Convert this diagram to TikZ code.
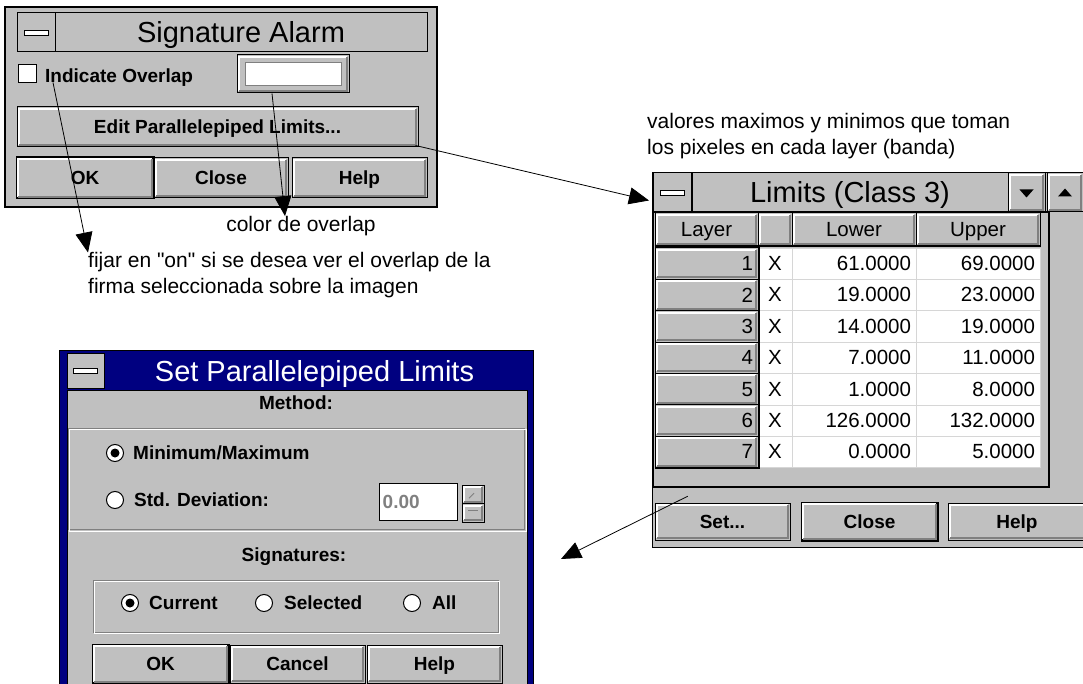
\documentclass[tikz,border=0pt]{standalone}
\usepackage{fontspec}
\setmainfont{Liberation Sans}[Ligatures=TeXOff]
\usetikzlibrary{positioning}
\usetikzlibrary{calc}
\usetikzlibrary{arrows.meta}
\definecolor{wingray}{RGB}{192,192,192}
\definecolor{winshade}{RGB}{128,128,128}
\definecolor{winnavy}{RGB}{0,0,128}
\definecolor{gridgray}{RGB}{214,214,214}
\newcommand{\dlgfont}{\fontsize{19}{22}\selectfont\bfseries}
\newcommand{\ttlfont}{\fontsize{29}{32}\selectfont}
\newcommand{\cellfont}{\fontsize{20.5}{24}\selectfont}
\newcommand{\notefont}{\fontsize{21}{26}\selectfont}
\newcommand{\raised}[1]{%
  \draw[white,line width=2pt] ($(#1.south west)+(2.5,-2.5)$) -- ($(#1.north west)+(2.5,2.5)$) -- ($(#1.north east)+(-2.5,2.5)$);
  \draw[winshade,line width=2pt] ($(#1.south west)+(2.5,-2.5)$) -- ($(#1.south east)+(-2.5,-2.5)$) -- ($(#1.north east)+(-2.5,2.5)$);}
\tikzset{
    winbox/.style = {draw=black,fill=wingray,line width=1pt,inner sep=0pt},
    button/.style = {winbox,minimum width=135pt,minimum height=40pt,font=\dlgfont,text height=13.6pt,text depth=0pt},
    defbutton/.style = {button,line width=3pt},
    caption/.style = {winbox,minimum height=39pt,font=\ttlfont,text height=21pt,text depth=0pt},
    menubox/.style = {winbox,minimum width=38pt,minimum height=39pt},
    menubar/.style = {draw=black,fill=white,line width=0.8pt,minimum width=24pt,minimum height=5pt,inner sep=0pt},
    dlgtext/.style = {font=\dlgfont,inner sep=0pt,text height=13.6pt,text depth=0pt},
    checkbox/.style = {draw=black,fill=white,line width=1pt,minimum size=18pt,inner sep=0pt},
    radio/.style = {circle,draw=black,fill=white,line width=1pt,minimum size=17pt,inner sep=0pt},
    radioon/.style = {radio,path picture={\fill[black] (path picture bounding box.center) circle (4.5pt);}},
    colhead/.style = {winbox,minimum height=33pt,font=\cellfont,text height=14.7pt,text depth=0pt},
    rowhead/.style = {winbox,minimum height=31.4pt,text width=93pt,align=right,inner sep=5pt,font=\cellfont},
    datacell/.style = {draw=gridgray,fill=white,minimum height=31.4pt,text width=114pt,align=right,inner sep=5pt,font=\cellfont},
    note/.style = {font=\notefont,align=left,inner sep=0pt,anchor=north west},
    callout/.style = {line width=0.8pt,-{Triangle[length=20pt,width=17pt]}}}

\begin{document}
\begin{tikzpicture}[x=1pt,y=-1pt]
\useasboundingbox (0,0) rectangle (1083,684);
\clip (0,0) rectangle (1083,684);
% Signature Alarm
\node[winbox,line width=1.5pt,minimum width=432pt,minimum height=200pt] (sigWin) at (221,107) {};
\node[menubox] (sigMenu) at (36,32.5) {};
\node[menubar] at (sigMenu) {};
\node[caption,minimum width=372pt] (sigTitle) at (241,32.5) {Signature Alarm};
\node[checkbox] (overlapBox) at (27.5,74) {};
\node[dlgtext,anchor=west] (overlapLbl) at (45,75.5) {Indicate Overlap};
\node[winbox,minimum width=112pt,minimum height=38pt] (colorBox) at (293,74) {};
\raised{colorBox}
\node[draw=winshade,fill=white,minimum width=96pt,minimum height=23pt,inner sep=0pt] at (colorBox) {};
\node[button,minimum width=401pt] (editBtn) at (217.5,127) {Edit Parallelepiped Limits...};
\node[defbutton,minimum width=136pt] (sigOk) at (85,178) {OK};
\node[button,minimum width=134pt] (sigClose) at (221,178) {Close};
\node[button] (sigHelp) at (359.5,178) {Help};
\foreach \b in {editBtn,sigOk,sigClose,sigHelp} {\raised{\b}}

% Limits (Class 3)
\node[winbox,minimum width=438pt,minimum height=374pt] (limWin) at (871,360) {};
\node[menubox] (limMenu) at (672.5,192.5) {};
\node[menubar] at (limMenu) {};
\node[caption,minimum width=316pt] (limTitle) at (850,192.5) {Limits (Class 3)};
\node[menubox,minimum width=37pt] (limDown) at (1026.5,192.5) {};
\node[menubox,minimum width=36pt] (limUp) at (1065,192.5) {};
\raised{limDown} \raised{limUp}
\fill (limDown.center) +(-7,-3) -- +(7,-3) -- +(0,5) -- cycle;
\fill (limUp.center) +(-7,4) -- +(7,4) -- +(0,-4) -- cycle;
\node[fill=wingray,minimum width=396pt,minimum height=275pt,inner sep=0pt] (limTable) at (851,349.5) {};
\node[colhead,minimum width=103pt] (hLayer) at (706.5,229.5) {Layer};
\node[colhead,minimum width=34pt] (hSel) at (775,229.5) {};
\node[colhead,minimum width=124pt] (hLower) at (854,229.5) {Lower};
\node[colhead,minimum width=124pt] (hUpper) at (978,229.5) {Upper};
\foreach \h in {hLayer,hSel,hLower,hUpper} {\raised{\h}}
\foreach \lay/\lo/\up [count=\i from 0] in {1/61.0000/69.0000,2/19.0000/23.0000,3/14.0000/19.0000,4/7.0000/11.0000,5/1.0000/8.0000,6/126.0000/132.0000,7/0.0000/5.0000} {
    \pgfmathsetmacro{\ry}{263.5+31.4*\i}
    \node[rowhead] (lay\lay) at (706.5,\ry) {\lay};
    \raised{lay\lay}
    \node[datacell,text width=24pt,align=center] (sel\lay) at (775,\ry) {X};
    \node[datacell] (lo\lay) at (854,\ry) {\lo};
    \node[datacell] (up\lay) at (978,\ry) {\up};
}
\draw[line width=2pt] (hLayer.south west) -- (hUpper.south east);
\draw[line width=2pt] (hLayer.south east) -- (lay7.south east) -- (lay7.south west);
\draw[line width=2pt] (limTable.north west) rectangle (limTable.south east);
\node[button,minimum height=37pt] (setBtn) at (722.5,521.5) {Set...};
\node[defbutton,minimum height=37pt] (limClose) at (869.5,521.5) {Close};
\node[button,minimum width=138pt,minimum height=37pt] (limHelp) at (1017,521.5) {Help};
\foreach \b in {setBtn,limClose,limHelp} {\raised{\b}}

% Set Parallelepiped Limits
\node[draw=black,fill=winnavy,minimum width=474pt,minimum height=350pt,inner sep=0pt] (setFrame) at (296,525) {};
\node[menubox,minimum width=37pt,minimum height=35pt] (setMenu) at (85.5,371) {};
\node[menubar] at (setMenu) {};
\node[font=\ttlfont,text=white,inner sep=0pt,text height=21pt,text depth=0pt] (setTitle) at (314.5,371) {Set Parallelepiped Limits};
\node[fill=wingray,draw=black,minimum width=460pt,minimum height=310pt,inner sep=0pt] (setBody) at (297,545) {};
\node[dlgtext] (methodLbl) at (296,403) {Method:};
\node[draw=winshade,minimum width=456pt,minimum height=101pt,inner sep=0pt] (methodGrp) at (296.5,479) {};
\draw[white] ($(methodGrp.north west)+(1,1)$) rectangle ($(methodGrp.south east)+(1,1)$);
\node[radioon] (radMin) at (115,453) {};
\node[dlgtext,anchor=west] (minLbl) at (133,453) {Minimum/Maximum};
\node[radio] (radStd) at (115,500) {};
\node[dlgtext,anchor=west] (stdLbl) at (134,500) {Std. Deviation:};
\node[draw=black,fill=white,line width=1pt,minimum width=78pt,minimum height=37pt,inner sep=0pt] (stdVal) at (418,501.5) {};
\node[dlgtext,text=winshade,anchor=west] at ($(stdVal.west)+(4,0)$) {0.00};
\node[winbox,minimum width=22pt,minimum height=18.5pt] (spinUp) at (473,494.25) {};
\node[winbox,minimum width=22pt,minimum height=18.5pt] (spinDown) at (473,512.75) {};
\raised{spinUp} \raised{spinDown}
\draw[winshade,line width=1pt] ($(spinUp.center)+(-4,4)$) -- ($(spinUp.center)+(1,-1)$);
\draw[winshade,line width=1pt] ($(spinDown.center)+(-5,-2)$) -- ($(spinDown.center)+(5,-2)$);
\node[dlgtext] (sigsLbl) at (294,555) {Signatures:};
\node[draw=winshade,minimum width=405pt,minimum height=52pt,inner sep=0pt] (sigGrp) at (295.5,606) {};
\draw[white] ($(sigGrp.north west)+(1,1)$) rectangle ($(sigGrp.south east)+(1,1)$);
\node[radioon] (radCur) at (130,603) {};
\node[dlgtext,anchor=west] (curLbl) at (149,603) {Current};
\node[radio] (radSel) at (264,603) {};
\node[dlgtext,anchor=west] (selLbl) at (284,603) {Selected};
\node[radio] (radAll) at (412,603) {};
\node[dlgtext,anchor=west] (allLbl) at (432,603) {All};
\node[defbutton,minimum height=38pt] (setOk) at (160.5,664) {OK};
\node[button,minimum height=38pt] (setCancel) at (297.5,664) {Cancel};
\node[button,minimum height=38pt] (setHelp) at (434.5,664) {Help};
\foreach \b in {setOk,setCancel,setHelp} {\raised{\b}}

% notes
\node[note] (valNote) at (647,113) {valores maximos y minimos que toman\\los pixeles en cada layer (banda)};
\node[font=\notefont,inner sep=0pt,anchor=base] (colorNote) at (301,231.5) {color de overlap};
\node[note] (fijarNote) at (88,252.5) {fijar en "on" si se desea ver el overlap de la\\firma seleccionada sobre la imagen};
\coordinate (setTip) at (561,559);
\draw[callout] ($(overlapLbl.south west)+(8,0)$) -- (fijarNote.north west);
\draw[callout] ($(colorBox.south)+(-21,0)$) -- ($(colorNote.north)+(-16,0)$);
\draw[callout] ($(editBtn.south east)+(-3,-2)$) -- ($(limMenu.west)+(-4,8)$);
\draw[callout] ($(limTable.south west)+(35,9)$) -- (setTip);
\end{tikzpicture}
\end{document}
